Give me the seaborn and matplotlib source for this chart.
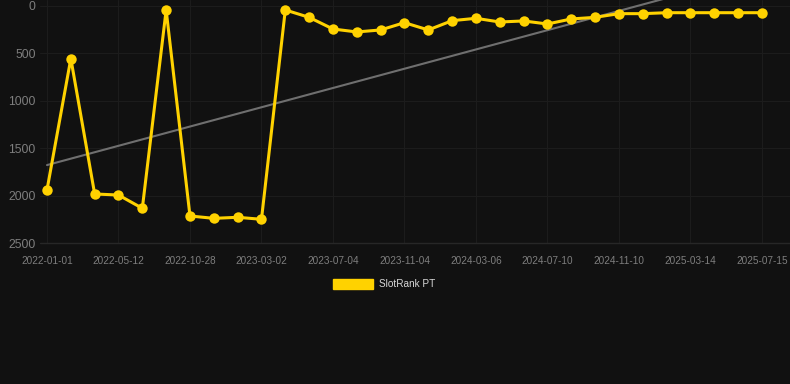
import numpy as np
import pandas as pd
import matplotlib
matplotlib.use("Agg")
import matplotlib.pyplot as plt
import seaborn as sns
from matplotlib.patches import Patch

tick_labels = ["2022-01-01", "2022-05-12", "2022-10-28", "2023-03-02", "2023-07-04",
               "2023-11-04", "2024-03-06", "2024-07-10", "2024-11-10", "2025-03-14",
               "2025-07-15"]
rank = [1940, 555, 1983, 1994, 2134, 42, 2215, 2240, 2229, 2250,
        42, 120, 243, 274, 253, 176, 253, 155, 130, 169,
        158, 190, 137, 120, 81, 81, 71, 71, 71, 71, 71]
series_name = "SlotRank PT"

BG = "#111111"
YELLOW = "#FFD200"
GRID = "#1c1c1c"
TXT = "#7e7e7e"

sns.set_theme(style="dark")
plt.rcParams["font.family"] = ["Liberation Sans", "DejaVu Sans"]

df = pd.DataFrame({"idx": np.arange(len(rank)), "rank": rank})

fig = plt.figure(figsize=(7.9, 3.84), dpi=100, facecolor=BG)
ax = fig.add_axes([40 / 790, 1 - 243 / 384, 750 / 790, 243 / 384])
ax.set_facecolor(BG)

# trend line
coef = np.polyfit(df["idx"], df["rank"], 1)
tx = np.array([0, len(rank) - 1])
ax.plot(tx, np.polyval(coef, tx), color="#6f6f6f", lw=1.5, zorder=2)

sns.lineplot(data=df, x="idx", y="rank", ax=ax, color=YELLOW, lw=2.2,
             marker="o", markersize=7.5, markeredgewidth=0, zorder=3)

ax.set_ylim(2500, -63)
ax.set_xlim(-0.294, 31.18)
ax.set_yticks([0, 500, 1000, 1500, 2000, 2500])
ax.set_xticks(np.arange(0, len(rank), 3))
ax.set_xticklabels(tick_labels)
ax.tick_params(axis="x", colors=TXT, labelsize=7.2, length=0, pad=9)
ax.tick_params(axis="y", colors=TXT, labelsize=8.7, length=0, pad=3)
ax.grid(True, color=GRID, lw=0.8)
ax.set_xlabel("")
ax.set_ylabel("")
for s in ax.spines.values():
    s.set_visible(False)
ax.axhline(2500, color="#272727", lw=1.0, zorder=1, clip_on=False)

handles = [Patch(facecolor=YELLOW, edgecolor=YELLOW, label=series_name)]
leg = fig.legend(handles=handles, loc="center", bbox_to_anchor=(384 / 790, 1 - 284 / 384),
                 frameon=False, handlelength=4.0, handleheight=1.2, handletextpad=0.6,
                 fontsize=7.2, labelcolor="#d8d8d8")

fig.savefig("out.png", dpi=100, facecolor=BG)
